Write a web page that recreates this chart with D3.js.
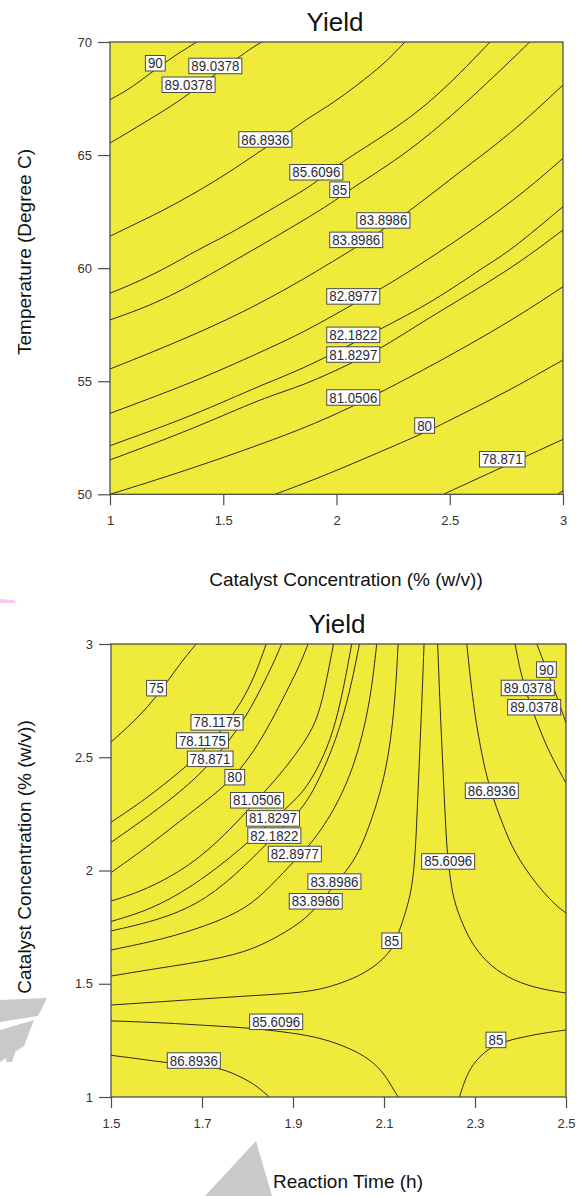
<!DOCTYPE html>
<html><head><meta charset="utf-8">
<script src="https://cdn.jsdelivr.net/npm/d3@7"></script>
<style>
body{margin:0;background:#fff;}
svg{display:block;font-family:"Liberation Sans",Arial,sans-serif;}
</style></head><body>
<svg id="chart" width="582" height="1196"></svg>
<script>
// ---------- Chart 1 : Temperature vs Catalyst Concentration ----------
const c1XTicks = [1, 1.5, 2, 2.5, 3];
const c1YTicks = [50, 55, 60, 65, 70];
const c1_90      = [[1.0,67.45],[1.081,67.89],[1.155,68.44],[1.250,69.15],[1.317,69.59],[1.383,70]];
const c1_890378  = [[1.0,65.53],[1.081,66.01],[1.155,66.46],[1.228,66.90],[1.302,67.38],[1.346,67.70],[1.467,68.58],[1.589,69.47],[1.626,69.74],[1.670,70]];
const c1_868936  = [[1.0,61.41],[1.081,61.81],[1.228,62.51],[1.375,63.32],[1.522,64.21],[1.640,65.02],[1.817,66.20],[1.861,66.55],[1.986,67.30],[2.133,68.41],[2.222,69.15],[2.302,70]];
const c1_856096  = [[1.0,58.89],[1.125,59.40],[1.272,60.14],[1.375,60.75],[1.522,61.48],[1.670,62.36],[1.861,63.47],[1.913,63.84],[2.015,64.65],[2.207,65.83],[2.427,67.38],[2.678,70]];
const c1_85      = [[1.0,57.71],[1.228,58.52],[1.500,60.04],[1.861,62.14],[2.007,63.07],[2.057,63.47],[2.280,64.87],[2.501,66.64],[2.766,69.15],[2.853,70]];
const c1_838986  = [[1.0,55.54],[1.302,56.75],[1.596,58.07],[1.861,59.55],[1.940,60.04],[2.089,60.92],[2.325,62.51],[2.545,64.28],[2.766,65.90],[3.0,68.10]];
const c1_828977  = [[1.0,53.58],[1.375,54.98],[1.670,56.31],[1.861,57.19],[2.074,58.41],[2.200,59.11],[2.369,60.14],[2.766,62.81],[3.0,64.86]];
const c1_821822  = [[1.0,52.15],[1.375,53.51],[1.670,54.85],[1.861,55.57],[2.200,57.34],[2.427,58.52],[2.663,60.14],[2.766,60.75],[3.0,62.72]];
const c1_818297  = [[1.0,51.52],[1.375,52.92],[1.670,54.25],[1.861,54.83],[2.074,55.84],[2.200,56.46],[2.427,57.93],[2.766,59.92],[3.0,61.69]];
const c1_810506  = [[1.0,50],[1.228,50.71],[1.493,51.59],[1.861,52.92],[2.074,53.90],[2.200,54.54],[2.427,55.72],[2.766,57.63],[3.0,59.18]];
const c1_80      = [[1.728,50],[1.861,50.49],[2.060,51.30],[2.383,52.70],[2.430,52.92],[2.575,53.65],[2.766,54.61],[3.0,55.94]];
const c1_78871   = [[2.472,50],[2.737,51.22],[3.0,52.43]];
const c1_low     = [[2.976,50],[3.0,50.16]];
const c1Lines = [c1_90,c1_890378,c1_868936,c1_856096,c1_85,c1_838986,c1_828977,c1_821822,c1_818297,c1_810506,c1_80,c1_78871,c1_low];
const c1Labels = [
  [1.200,69.06,"90"],[1.465,68.94,"89.0378"],[1.347,68.11,"89.0378"],
  [1.686,65.69,"86.8936"],[1.911,64.24,"85.6096"],[2.014,63.47,"85"],
  [2.207,62.11,"83.8986"],[2.087,61.25,"83.8986"],[2.074,58.75,"82.8977"],
  [2.074,57.05,"82.1822"],[2.074,56.18,"81.8297"],[2.074,54.28,"81.0506"],
  [2.389,53.04,"80"],[2.732,51.55,"78.871"]
];

// ---------- Chart 2 : Catalyst Concentration vs Reaction Time ----------
const c2XTicks = [1.5, 1.7, 1.9, 2.1, 2.3, 2.5];
const c2YTicks = [1, 1.5, 2, 2.5, 3];
const c2_75      = [[1.5,2.567],[1.542,2.642],[1.581,2.722],[1.614,2.806],[1.645,2.894],[1.669,2.956],[1.687,3.0]];
const c2_781175  = [[1.5,2.213],[1.577,2.316],[1.650,2.434],[1.709,2.536],[1.757,2.656],[1.795,2.770],[1.821,2.885],[1.841,3.0]];
const c2_78871   = [[1.5,2.124],[1.586,2.245],[1.663,2.364],[1.722,2.479],[1.773,2.607],[1.810,2.726],[1.839,2.841],[1.860,2.929],[1.875,3.0]];
const c2_80      = [[1.5,1.991],[1.586,2.113],[1.674,2.254],[1.740,2.355],[1.784,2.444],[1.823,2.554],[1.860,2.687],[1.893,2.819],[1.915,2.907],[1.933,3.0]];
const c2_810506  = [[1.5,1.865],[1.577,1.914],[1.674,2.020],[1.751,2.157],[1.821,2.311],[1.871,2.422],[1.915,2.536],[1.952,2.654],[1.970,2.801],[1.989,3.0]];
const c2_818297  = [[1.5,1.775],[1.586,1.826],[1.674,1.923],[1.762,2.055],[1.839,2.192],[1.893,2.289],[1.926,2.355],[1.959,2.466],[1.989,2.612],[2.011,2.801],[2.029,3.0]];
const c2_821822  = [[1.5,1.733],[1.614,1.785],[1.709,1.870],[1.795,2.020],[1.858,2.152],[1.915,2.257],[1.952,2.374],[1.996,2.581],[2.025,2.787],[2.046,3.0]];
const c2_828977  = [[1.5,1.649],[1.614,1.696],[1.709,1.755],[1.797,1.829],[1.854,1.936],[1.904,2.046],[1.937,2.110],[1.989,2.257],[2.036,2.463],[2.069,2.728],[2.084,3.0]];
const c2_838986  = [[1.5,1.534],[1.608,1.570],[1.687,1.593],[1.797,1.637],[1.870,1.711],[1.929,1.785],[1.970,1.883],[2.008,1.976],[2.039,2.055],[2.069,2.198],[2.106,2.434],[2.124,2.728],[2.131,3.0]];
const c2_85a     = [[1.5,1.406],[1.687,1.431],[1.797,1.446],[1.929,1.461],[1.989,1.490],[2.047,1.534],[2.091,1.593],[2.117,1.652],[2.126,1.693],[2.135,1.740],[2.157,1.873],[2.168,2.020],[2.175,2.360],[2.183,2.728],[2.188,3.0]];
const c2_856096a = [[2.218,3.0],[2.223,2.728],[2.230,2.434],[2.238,2.080],[2.245,1.980],[2.252,1.873],[2.274,1.755],[2.296,1.667],[2.333,1.578],[2.386,1.512],[2.443,1.477],[2.5,1.459]];
const c2_868936a = [[2.282,3.0],[2.296,2.728],[2.315,2.507],[2.333,2.355],[2.362,2.198],[2.386,2.080],[2.432,1.945],[2.476,1.848],[2.5,1.812]];
const c2_890378  = [[2.388,3.0],[2.399,2.885],[2.414,2.775],[2.434,2.665],[2.456,2.554],[2.478,2.466],[2.5,2.386]];
const c2_90      = [[2.436,3.0],[2.450,2.925],[2.465,2.850],[2.480,2.766],[2.491,2.704],[2.5,2.651]];
const c2_856096b = [[1.5,1.336],[1.614,1.328],[1.724,1.314],[1.806,1.305],[1.923,1.278],[1.992,1.243],[2.062,1.181],[2.099,1.107],[2.115,1.053],[2.131,1.0]];
const c2_868936b = [[1.5,1.184],[1.564,1.168],[1.622,1.151],[1.685,1.141],[1.742,1.129],[1.797,1.078],[1.823,1.044],[1.848,1.0]];
const c2_85b     = [[2.266,1.0],[2.274,1.053],[2.289,1.128],[2.315,1.190],[2.344,1.230],[2.377,1.252],[2.436,1.278],[2.5,1.296]];
const c2Lines = [c2_75,c2_781175,c2_78871,c2_80,c2_810506,c2_818297,c2_821822,c2_828977,c2_838986,c2_85a,
                 c2_856096a,c2_868936a,c2_890378,c2_90,c2_856096b,c2_868936b,c2_85b];
const c2Labels = [
  [1.600,2.805,"75"],[1.733,2.654,"78.1175"],[1.701,2.574,"78.1175"],[1.718,2.493,"78.871"],
  [1.772,2.412,"80"],[1.821,2.310,"81.0506"],[1.856,2.230,"81.8297"],[1.859,2.154,"82.1822"],
  [1.904,2.073,"82.8977"],[1.991,1.951,"83.8986"],[1.950,1.864,"83.8986"],[2.117,1.690,"85"],
  [2.241,2.040,"85.6096"],[2.337,2.352,"86.8936"],[2.457,2.887,"90"],[2.416,2.806,"89.0378"],
  [2.430,2.721,"89.0378"],[1.863,1.332,"85.6096"],[1.682,1.161,"86.8936"],[2.346,1.252,"85"]
];

// ---------- drawing ----------
const svg = d3.select("#chart");
const FILL = "#f0eb3a";

// scan artefacts from the source picture (decorative, not data)
const wm = svg.append("g").attr("fill","#c9c9c9");
wm.append("path").attr("d","M205,1196 L256,1141 L272,1196 Z");
wm.append("path").attr("d","M0,1000 L47,998 L38,1016 L0,1022 Z");
wm.append("path").attr("d","M0,1030 L34,1020 L24,1046 L0,1062 Z");
wm.append("path").attr("d","M8,1046 L17,1046 L12,1062 L6,1062 Z");
svg.append("path").attr("d","M0,599 L14,600 L17,603 L0,603 Z").attr("fill","#f6c8f2");

function drawPanel(o){
  const x = d3.scaleLinear().domain(o.xd).range([o.l,o.r]);
  const y = d3.scaleLinear().domain(o.yd).range([o.b,o.t]);
  const g = svg.append("g");
  const cid = "clip"+o.id;
  g.append("clipPath").attr("id",cid).append("rect")
    .attr("x",o.l).attr("y",o.t).attr("width",o.r-o.l).attr("height",o.b-o.t);
  g.append("rect").attr("x",o.l).attr("y",o.t).attr("width",o.r-o.l).attr("height",o.b-o.t).attr("fill",FILL);
  const line = d3.line().x(d=>x(d[0])).y(d=>y(d[1])).curve(d3.curveBasis);
  g.append("g").attr("clip-path",`url(#${cid})`).selectAll("path").data(o.lines).join("path")
    .attr("d",line).attr("fill","none").attr("stroke","#1e1e1e").attr("stroke-width",0.95);
  // frame
  g.append("rect").attr("x",o.l).attr("y",o.t).attr("width",o.r-o.l).attr("height",o.b-o.t)
    .attr("fill","none").attr("stroke","#4d4d4d").attr("stroke-width",1.3);
  // axes
  const ax = g.append("g").attr("transform",`translate(0,${o.b})`)
    .call(d3.axisBottom(x).tickValues(o.xt).tickFormat(d=>String(d)).tickSize(11).tickPadding(10.5));
  const ay = g.append("g").attr("transform",`translate(${o.l},0)`)
    .call(d3.axisLeft(y).tickValues(o.yt).tickFormat(d=>String(d)).tickSize(12).tickPadding(6));
  [ax,ay].forEach(a=>{
    a.select(".domain").remove();
    a.selectAll(".tick line").attr("stroke","#4d4d4d").attr("stroke-width",1.2);
    a.selectAll(".tick text").attr("fill","#333").attr("font-size",13)
      .attr("font-family","'Liberation Sans',Arial,sans-serif");
  });
  // contour labels
  const lg = g.append("g");
  o.labels.forEach(([lx,ly,t])=>{
    const gg = lg.append("g").attr("transform",`translate(${x(lx)},${y(ly)})`);
    const rect = gg.append("rect");
    const tx = gg.append("text").text(t).attr("font-size",14).attr("text-anchor","middle")
      .attr("dy","0.36em").attr("transform","scale(0.95,1)").attr("fill","#2a2a35");
    const w = tx.node().getComputedTextLength()*0.95 + 5;
    rect.attr("x",-w/2).attr("y",-7.75).attr("width",w).attr("height",15.5)
      .attr("fill","#fff").attr("stroke","#4a4a4a").attr("stroke-width",1);
  });
  // titles
  g.append("text").attr("x",o.tx).attr("y",o.ty).attr("text-anchor","middle")
    .attr("font-size",26).attr("fill","#111").text("Yield");
  g.append("text").attr("x",o.xtx).attr("y",o.xty).attr("text-anchor","middle")
    .attr("font-size",19).attr("fill","#111").text(o.xlabel);
  g.append("text").attr("transform",`translate(${31},${o.yty}) rotate(-90)`).attr("text-anchor","middle")
    .attr("font-size",19).attr("fill","#111").text(o.ylabel);
}

drawPanel({id:1,xd:[1,3],yd:[50,70],l:110,r:563,t:42,b:494.3,xt:c1XTicks,yt:c1YTicks,
  lines:c1Lines,labels:c1Labels,tx:335,ty:31,xtx:346,xty:586,yty:252,
  xlabel:"Catalyst Concentration (% (w/v))",ylabel:"Temperature (Degree C)"});
drawPanel({id:2,xd:[1.5,2.5],yd:[1,3],l:111,r:566,t:644,b:1097,xt:c2XTicks,yt:c2YTicks,
  lines:c2Lines,labels:c2Labels,tx:337,ty:632.5,xtx:348,xty:1188,yty:857,
  xlabel:"Reaction Time (h)",ylabel:"Catalyst Concentration (% (w/v))"});
</script>
</body></html>
